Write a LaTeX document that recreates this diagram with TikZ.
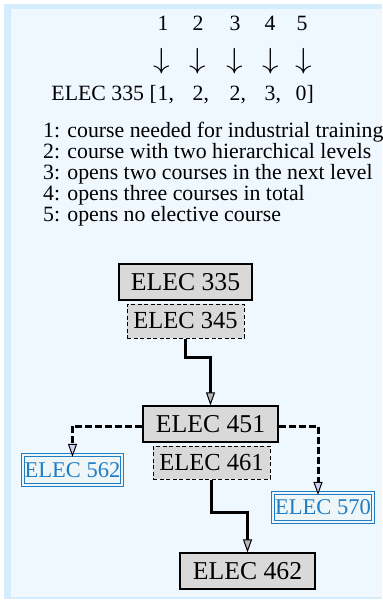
\documentclass[tikz,border=0pt]{standalone}
\usepackage{fontspec}
\usepackage{graphicx}
\setmainfont{Liberation Serif}
\usetikzlibrary{arrows.meta,calc}
\definecolor{stripe}{HTML}{D5ECFC}
\definecolor{panel}{HTML}{EFF7FF}
\definecolor{boxgray}{HTML}{D9D9D9}
\definecolor{elecblue}{HTML}{1F7DC6}
\definecolor{bluefill}{HTML}{EEF6F8}
\definecolor{headlav}{HTML}{D2D0F0}
\definecolor{headgray}{HTML}{B8B8B8}
\tikzset{
  txt/.style={inner sep=0pt,font=\fontsize{21.8}{22}\selectfont},
  mainbox/.style={draw=black,line width=1.2pt,fill=boxgray,inner sep=0pt,font=\fontsize{25.7}{26}\selectfont},
  optbox/.style={draw=black,line width=1pt,dash pattern=on 4pt off 2.5pt,fill=boxgray,inner sep=0pt,font=\fontsize{24.5}{25}\selectfont},
  elecbox/.style={draw=elecblue,line width=1.1pt,double=bluefill,double distance=1.5pt,fill=bluefill,text=elecblue,inner sep=0pt,font=\fontsize{22.5}{23}\selectfont},
  reqline/.style={line width=3pt,-{Triangle[length=13pt,width=9pt,fill=headgray,line width=1pt]}},
  elecline/.style={line width=3pt,dash pattern=on 7pt off 3pt,-{Triangle[length=13pt,width=9pt,fill=headlav,line width=1pt]}},
}
\begin{document}
\begin{tikzpicture}[x=1pt,y=-1pt]
\useasboundingbox (0,0) rectangle (382,601);
\fill[white] (0,0) rectangle (382,601);
\fill[stripe] (4,4) rectangle (382,599);
\fill[panel] (11,9) rectangle (382,597);
% header numbers
\foreach \n/\x in {1/163,2/198,3/235,4/270,5/302}{
  \node[txt,anchor=base] (num\n) at (\x,31) {\n};
}
\foreach \n/\x in {1/162,2/198,3/235,4/271,5/304}{
  \node[txt,font=\fontsize{20}{20}\selectfont] (arr\n) at (\x,61) {\scalebox{1.6}[1.4]{$\downarrow$}};
}
\node[txt,anchor=base east] (hdr) at (157,101) {ELEC 335 [};
\node[txt,anchor=base west] (v1) at (157.5,101) {1,};
\node[txt,anchor=base west] (v2) at (192.5,101) {2,};
\node[txt,anchor=base west] (v3) at (229.5,101) {2,};
\node[txt,anchor=base west] (v4) at (264.5,101) {3,};
\node[txt,anchor=base west] (v5) at (295.5,101) {0]};
% legend
\node[txt,anchor=base west] (l1) at (43,138) {1: course needed for industrial training};
\node[txt,anchor=base west] (l2) at (43,159) {2: course with two hierarchical levels};
\node[txt,anchor=base west] (l3) at (43,180) {3: opens two courses in the next level};
\node[txt,anchor=base west] (l4) at (43,201) {4: opens three courses in total};
\node[txt,anchor=base west] (l5) at (43,222) {5: opens no elective course};
% boxes
\node[mainbox,minimum width=133pt,minimum height=36pt] (e335) at (185.5,282) {ELEC 335};
\node[optbox,minimum width=117pt,minimum height=34pt] (e345) at (185.5,321) {ELEC 345};
\node[mainbox,minimum width=135pt,minimum height=36pt] (e451) at (210.5,424) {ELEC 451};
\node[optbox,minimum width=117pt,minimum height=33pt] (e461) at (211.5,462.5) {ELEC 461};
\node[elecbox,minimum width=99pt,minimum height=30pt] (e562) at (72.5,470) {ELEC 562};
\node[elecbox,minimum width=100pt,minimum height=29pt] (e570) at (323,507.5) {ELEC 570};
\node[mainbox,minimum width=135pt,minimum height=36pt] (e462) at (247.5,571) {ELEC 462};
% connectors
\draw[reqline] (e345.south) -- ++(0,19) -| (e451.north);
\draw[reqline] (e461.south) -- ++(0,33) -| (e462.north);
\draw[elecline] ([yshift=-2pt]e451.west) -| ([yshift=-2.5pt]e562.north);
\draw[elecline] ([yshift=-2pt]e451.east) -| ([xshift=-5pt,yshift=-2.5pt]e570.north);
\end{tikzpicture}
\end{document}
